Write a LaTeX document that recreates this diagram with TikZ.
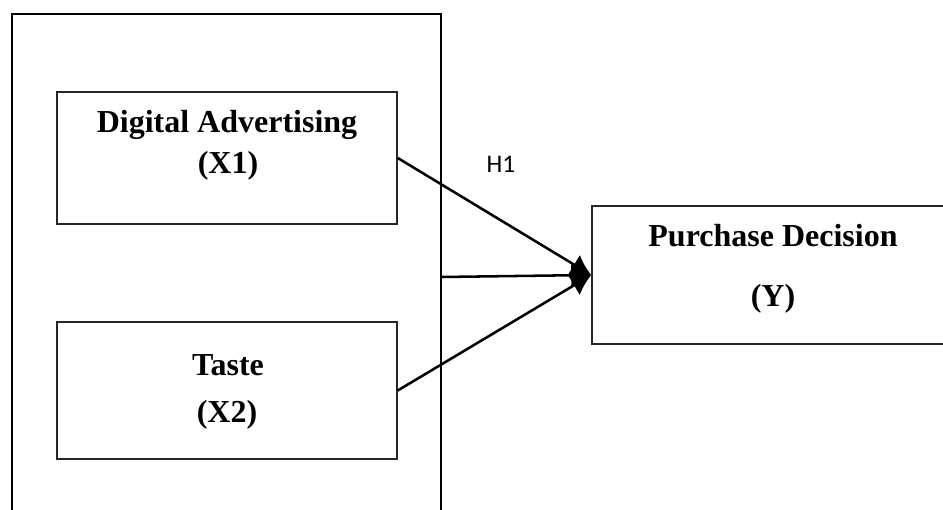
\documentclass[tikz,border=0pt]{standalone}
\usepackage{fontspec}
\setmainfont{Liberation Serif}
\newfontfamily\hfont{Carlito}
\usetikzlibrary{arrows.meta}

\begin{document}
\begin{tikzpicture}[x=0.75pt,y=-0.75pt,
	varbox/.style={draw=black!85,line width=1.1pt,inner sep=0pt},
	vartext/.style={inner sep=0pt,font=\fontsize{24}{28}\selectfont\bfseries},
	path/.style={line width=1.9pt,-{Latex[length=15pt,width=17pt]}}]
	 	\useasboundingbox (0,0) rectangle (943,510);
	 	\fill [white] (0,0) rectangle (943,510);
	 	% frame round the independent variables
	 	\draw [black,line width=1.6pt] (12,515) -- (12,14) -- (441,14) -- (441,515);
	 	\coordinate (frame) at (441,277);
	 	\node [varbox,minimum width=255pt,minimum height=99pt] (x1) at (227,158) {};
	 	\node [varbox,minimum width=255pt,minimum height=103pt] (x2) at (227,390.5) {};
	 	\node [varbox,minimum width=276pt,minimum height=103.5pt] (y) at (776,275) {};
	 	\node [vartext] (x1a) at (227,125) {Digital Advertising};
	 	\node [vartext] (x1b) at (228,166) {(X1)};
	 	\node [vartext] (x2a) at (228,365) {Taste};
	 	\node [vartext] (x2b) at (227,415) {(X2)};
	 	\node [vartext] (ya) at (773,236) {Purchase Decision};
	 	\node [vartext] (yb) at (773,299) {(Y)};
	 	\node [inner sep=0pt,font=\hfont\fontsize{19}{21}\selectfont] (h1) at (501,164) {H1};
	 	\draw [path] (x1.east) -- (y.west);
	 	\draw [path] (frame) -- (y.west);
	 	\draw [path] (x2.east) -- (y.west);
\end{tikzpicture}
\end{document}
